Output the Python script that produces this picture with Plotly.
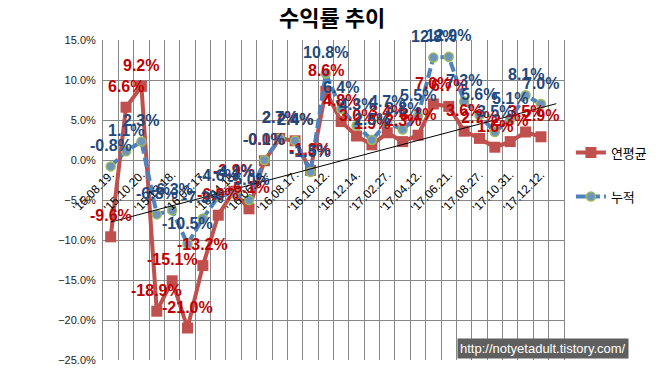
import numpy as np
import plotly.graph_objects as go

title_text = "수익률 추이"
series_names = ["연평균", "누적"]
x_labels = ["'15.08.19.", "'15.10.20.", "'15.12.18.", "'16.02.17.", "'16.04.15.",
            "'16.06.15.", "'16.08.17.", "'16.10.12.", "'16.12.14.", "'17.02.27.",
            "'17.04.12.", "'17.06.21.", "'17.08.27.", "'17.10.31.", "'17.12.12."]
label_step = 2
n_categories = 30

annual = [-9.6, 6.6, 9.2, -18.9, -15.1, -21.0, -13.2, -6.9, -3.9, -6.1,
          -0.1, 2.7, 2.4, -1.3, 8.6, 4.8, 3.0, 1.9, 3.4, 2.3,
          3.1, 7.0, 6.7, 3.6, 2.7, 1.6, 2.3, 3.5, 2.9]
cumulative = [-0.8, 1.1, 2.3, -6.8, -6.3, -10.5, -7.3, -4.6, -4.1, -5.0,
              -0.0, 2.7, 2.4, -1.5, 10.8, 6.4, 4.3, 2.5, 4.7, 3.8,
              5.5, 12.8, 12.9, 7.3, 5.6, 3.5, 5.1, 8.1, 7.0]

y_min, y_max, y_step = -25, 15, 5

RED_LINE = "#C0504D"
RED_TEXT = "#C00000"
BLUE_LINE = "#4F81BD"
BLUE_TEXT = "#1F497D"
GRID = "#878787"

xs = list(range(len(annual)))
fig = go.Figure()

fig.add_trace(go.Scatter(
    x=xs, y=annual, name=series_names[0], mode="lines+markers",
    line=dict(color=RED_LINE, width=4),
    marker=dict(symbol="square", size=11, color=RED_LINE),
    legendgroup="a",
))
fig.add_trace(go.Scatter(
    x=xs, y=cumulative, name=series_names[1], mode="lines+markers",
    line=dict(color=BLUE_LINE, width=4, dash="10px,4px"),
    marker=dict(symbol="circle", size=9, color="#6F93BF",
                line=dict(color="#9BBB59", width=1.5)),
    legendgroup="b",
))

# linear trendline of 연평균
coef = np.polyfit(xs, annual, 1)
tx = [0, n_categories - 1]
fig.add_trace(go.Scatter(
    x=tx, y=list(np.polyval(coef, tx)), mode="lines",
    line=dict(color="black", width=1), showlegend=False, hoverinfo="skip",
))

annotations = []
for vals, col in ((annual, RED_TEXT), (cumulative, BLUE_TEXT)):
    for i, v in enumerate(vals):
        annotations.append(dict(
            x=i, y=v, xref="x", yref="y", text=f"{v:.1f}%", showarrow=False,
            yshift=21, font=dict(family="Liberation Sans, Arial", size=16,
                                 color=col, weight="bold"),
        ))

annotations.append(dict(
    xref="paper", yref="paper", x=0.768, y=0.004, xanchor="left", yanchor="bottom",
    text="http://notyetadult.tistory.com/", showarrow=False,
    bgcolor="#5F5F5F", font=dict(family="Liberation Sans, Arial", size=13, color="white"),
    borderpad=2,
))

tick_vals = list(range(0, len(x_labels) * label_step, label_step))
zero_pos = (0 - y_min) / (y_max - y_min)

# the page body adds an 8px margin; the figure is offset by it
fig.update_layout(
    width=652, height=363,
    margin=dict(l=95, r=96, t=32, b=11, autoexpand=False),
    paper_bgcolor="white", plot_bgcolor="white",
    title=dict(text=title_text, x=0.497, xanchor="center", y=0.973, yanchor="middle",
               font=dict(family="Noto Sans CJK KR", size=22, color="black", weight="bold")),
    showlegend=True,
    legend=dict(x=1.015, y=0.695, xanchor="left", yanchor="top",
                tracegroupgap=24, bgcolor="rgba(0,0,0,0)",
                font=dict(family="Noto Sans CJK KR", size=13, color="black")),
    annotations=annotations,
    xaxis=dict(
        range=[-0.5, n_categories - 0.5], automargin=False,
        tickmode="array", tickvals=tick_vals, ticktext=x_labels,
        tickangle=-45, showgrid=False, zeroline=False, showline=False,
        anchor="free", position=zero_pos,
        ticks="outside", ticklen=2, tickcolor="rgba(0,0,0,0)",
        tickfont=dict(family="Liberation Sans, Arial", size=12, color="black"),
        minor=dict(tickmode="linear", tick0=-0.5, dtick=1, showgrid=True,
                   gridcolor=GRID, gridwidth=1, ticks=""),
    ),
    yaxis=dict(
        range=[y_min, y_max], tickmode="linear", tick0=y_min, dtick=y_step,
        automargin=False,
        ticksuffix="%", tickformat=".1f", showgrid=True, gridcolor=GRID, gridwidth=1,
        zeroline=False, showline=True, linecolor=GRID, linewidth=1, mirror=True,
        tickfont=dict(family="Liberation Sans, Arial", size=11, color="#222222"),
        ticks="outside", ticklen=4, tickcolor="rgba(0,0,0,0)",
    ),
)

fig.write_html("out.html")
